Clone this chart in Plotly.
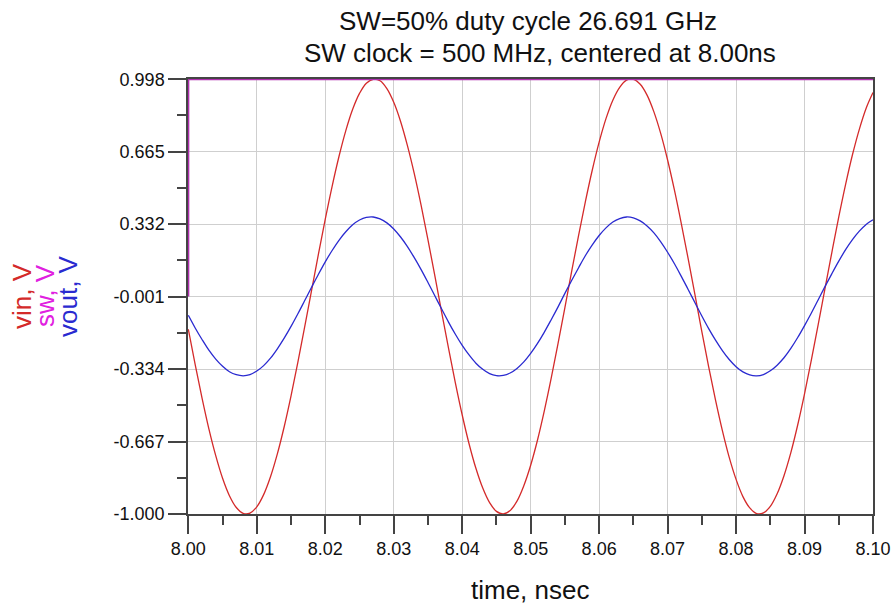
import plotly.graph_objects as go

# time samples (ns)
time_ns = [8.000, 8.001, 8.002, 8.003, 8.004, 8.005, 8.006, 8.007, 8.008, 8.009,
           8.010, 8.011, 8.012, 8.013, 8.014, 8.015, 8.016, 8.017, 8.018, 8.019,
           8.020, 8.021, 8.022, 8.023, 8.024, 8.025, 8.026, 8.027, 8.028, 8.029,
           8.030, 8.031, 8.032, 8.033, 8.034, 8.035, 8.036, 8.037, 8.038, 8.039,
           8.040, 8.041, 8.042, 8.043, 8.044, 8.045, 8.046, 8.047, 8.048, 8.049,
           8.050, 8.051, 8.052, 8.053, 8.054, 8.055, 8.056, 8.057, 8.058, 8.059,
           8.060, 8.061, 8.062, 8.063, 8.064, 8.065, 8.066, 8.067, 8.068, 8.069,
           8.070, 8.071, 8.072, 8.073, 8.074, 8.075, 8.076, 8.077, 8.078, 8.079,
           8.080, 8.081, 8.082, 8.083, 8.084, 8.085, 8.086, 8.087, 8.088, 8.089,
           8.090, 8.091, 8.092, 8.093, 8.094, 8.095, 8.096, 8.097, 8.098, 8.099,
           8.100]

vin = [-0.151, -0.314, -0.468, -0.609, -0.732, -0.836, -0.916, -0.970, -0.997, -0.996,
       -0.967, -0.911, -0.829, -0.724, -0.599, -0.457, -0.302, -0.139, 0.028, 0.194,
       0.355, 0.506, 0.643, 0.762, 0.860, 0.933, 0.980, 0.998, 0.991, 0.955,
       0.892, 0.804, 0.693, 0.564, 0.418, 0.260, 0.096, -0.073, -0.238, -0.397,
       -0.545, -0.677, -0.790, -0.881, -0.948, -0.988, -1.000, -0.984, -0.941, -0.870,
       -0.776, -0.660, -0.525, -0.376, -0.216, -0.051, 0.117, 0.281, 0.437, 0.581,
       0.709, 0.817, 0.902, 0.961, 0.994, 0.998, 0.975, 0.925, 0.848, 0.748,
       0.627, 0.488, 0.335, 0.174, 0.007, -0.162, -0.324, -0.477, -0.617, -0.740,
       -0.841, -0.920, -0.972, -0.998, -0.995, -0.965, -0.907, -0.824, -0.718, -0.591,
       -0.448, -0.292, -0.129, 0.038, 0.204, 0.365, 0.515, 0.651, 0.768, 0.865,
       0.937]

vout = [-0.087, -0.145, -0.198, -0.247, -0.288, -0.321, -0.346, -0.360, -0.365, -0.360,
        -0.343, -0.318, -0.284, -0.241, -0.192, -0.138, -0.080, -0.019, 0.042, 0.102,
        0.159, 0.211, 0.258, 0.297, 0.329, 0.351, 0.363, 0.365, 0.356, 0.338,
        0.310, 0.273, 0.229, 0.178, 0.123, 0.064, 0.003, -0.058, -0.118, -0.174,
        -0.225, -0.269, -0.307, -0.335, -0.355, -0.364, -0.363, -0.352, -0.331, -0.301,
        -0.262, -0.216, -0.164, -0.107, -0.048, 0.014, 0.074, 0.132, 0.188, 0.237,
        0.280, 0.315, 0.342, 0.358, 0.365, 0.361, 0.347, 0.324, 0.292, 0.251,
        0.203, 0.150, 0.092, 0.032, -0.029, -0.090, -0.148, -0.201, -0.249, -0.290,
        -0.323, -0.347, -0.361, -0.365, -0.359, -0.342, -0.316, -0.282, -0.239, -0.189,
        -0.134, -0.076, -0.015, 0.046, 0.105, 0.162, 0.215, 0.261, 0.300, 0.331,
        0.352]

sw_time = [8.000, 8.000, 8.100]
sw = [0.0, 0.998, 0.998]

x_ticks = [8.00, 8.01, 8.02, 8.03, 8.04, 8.05, 8.06, 8.07, 8.08, 8.09, 8.10]
x_labels = ["8.00", "8.01", "8.02", "8.03", "8.04", "8.05", "8.06", "8.07", "8.08", "8.09", "8.10"]
y_ticks = [-1.000, -0.667, -0.334, -0.001, 0.332, 0.665, 0.998]
y_labels = ["-1.000", "-0.667", "-0.334", "-0.001", "0.332", "0.665", "0.998"]
y_minor = [(a + b) / 2 for a, b in zip(y_ticks[:-1], y_ticks[1:])]
x_minor = [(a + b) / 2 for a, b in zip(x_ticks[:-1], x_ticks[1:])]

RED = "#d42a2a"
MAG = "#b030b0"
BLUE = "#2a2ad0"
FONT = "Liberation Sans, Arial, sans-serif"

fig = go.Figure()
fig.add_trace(go.Scatter(x=time_ns, y=vin, mode="lines",
                         line=dict(color=RED, width=1.3, shape="spline"), name="vin"))
fig.add_trace(go.Scatter(x=time_ns, y=vout, mode="lines",
                         line=dict(color=BLUE, width=1.3, shape="spline"), name="vout"))
fig.add_trace(go.Scatter(x=sw_time, y=sw, mode="lines", line=dict(color=MAG, width=2), name="sw", cliponaxis=False))

axis_common = dict(
    showline=True, linecolor="#444444", linewidth=1.5, mirror=True,
    ticks="outside", ticklen=18, tickwidth=1.5, tickcolor="#444444",
    showgrid=True, gridcolor="#cfcfcf", gridwidth=1.2,
    zeroline=False, layer="below traces", automargin=False,
    tickfont=dict(family=FONT, size=18, color="#111111"),
)

fig.update_xaxes(
    range=[7.99995, 8.1], tickmode="array", tickvals=x_ticks, ticktext=x_labels,
    minor=dict(tickmode="array", tickvals=x_minor, ticks="outside", ticklen=9,
               tickwidth=1.5, tickcolor="#444444", showgrid=False),
    **axis_common,
)
fig.update_yaxes(
    range=[-1.0, 0.9992], tickmode="array", tickvals=y_ticks, ticktext=y_labels,
    minor=dict(tickmode="array", tickvals=y_minor, ticks="outside", ticklen=9,
               tickwidth=1.5, tickcolor="#444444", showgrid=False),
    **axis_common,
)

plot_l, plot_r, plot_t, plot_b = 188, 873, 79, 514
pw, ph = plot_r - plot_l, plot_b - plot_t


def px_to_paper(px, py):
    return (px - plot_l) / pw, (plot_b - py) / ph


anns = []
for a, (px, py) in zip(["SW=50% duty cycle 26.691 GHz", "SW clock = 500 MHz, centered at 8.00ns"],
                       [(528, 21), (540, 53)]):
    xx, yy = px_to_paper(px, py)
    anns.append(dict(text=a, x=xx, y=yy, xref="paper", yref="paper", showarrow=False,
                     xanchor="center", yanchor="middle",
                     font=dict(family=FONT, size=26, color="#111111")))

xx, yy = px_to_paper(530, 590)
anns.append(dict(text="time, nsec", x=xx, y=yy, xref="paper", yref="paper", showarrow=False,
                 xanchor="center", yanchor="middle",
                 font=dict(family=FONT, size=26, color="#111111")))

for txt, col, px in [("vin, V", RED, 22), ("sw, V", "#e020e0", 45), ("vout, V", BLUE, 68)]:
    xx, yy = px_to_paper(px, 296)
    anns.append(dict(text=txt, x=xx, y=yy, xref="paper", yref="paper", showarrow=False,
                     xanchor="center", yanchor="middle", textangle=-90,
                     font=dict(family=FONT, size=26, color=col)))

fig.update_layout(
    width=896, height=606,
    margin=dict(l=plot_l, r=896 - plot_r, t=plot_t, b=606 - plot_b),
    paper_bgcolor="white", plot_bgcolor="white",
    showlegend=False,
    annotations=anns,
)

fig.write_html("out.html")
